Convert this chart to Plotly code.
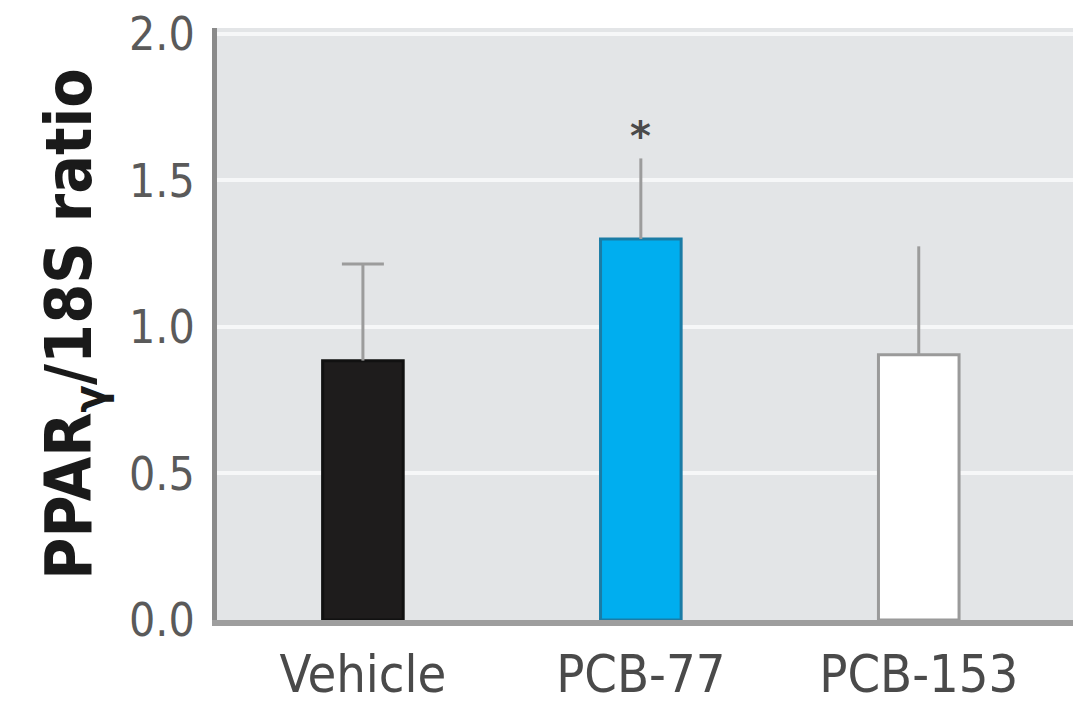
import plotly.graph_objects as go

# Relative PPARγ expression by treatment group
groups = ["Vehicle", "PCB-77", "PCB-153"]
ratio_mean = [0.885, 1.30, 0.905]
ratio_err = [0.33, 0.275, 0.37]
fill_colors = ["#1e1c1c", "#00aeef", "#ffffff"]
edge_colors = ["#111111", "#1a7ca6", "#9a9a9a"]
cap_sizes = [30, 0, 0]
y_ticks = [0.0, 0.5, 1.0, 1.5, 2.0]
y_tick_text = ["0.0", "0.5", "1.0", "1.5", "2.0"]
significance_mark = {"group": "PCB-77", "label": "*", "y": 1.65}

COND = "DejaVu Sans Condensed, Liberation Sans Narrow, Arial Narrow, sans-serif"
ERR_COLOR = "#9c9c9c"

fig = go.Figure()
for g, m, e, fc, ec in zip(groups, ratio_mean, ratio_err, fill_colors, edge_colors):
    fig.add_trace(go.Bar(
        x=[g], y=[m],
        width=0.29,
        marker=dict(color=fc, line=dict(color=ec, width=3)),
        error_y=dict(type="data", symmetric=False, array=[e], arrayminus=[0],
                     color=ERR_COLOR, thickness=3, width=0),
        showlegend=False,
    ))

# top caps only where the error whisker carries one
for g, m, e, cs in zip(groups, ratio_mean, ratio_err, cap_sizes):
    if cs > 0:
        fig.add_trace(go.Scatter(
            x=[g], y=[m + e], mode="markers",
            marker=dict(symbol="line-ew", size=cs, line=dict(color=ERR_COLOR, width=3)),
            showlegend=False, hoverinfo="skip",
        ))

fig.add_annotation(
    x=significance_mark["group"], y=significance_mark["y"],
    text="<b>" + significance_mark["label"] + "</b>", showarrow=False,
    font=dict(family="DejaVu Sans, sans-serif", size=40, color="#4a4a4a"),
    yanchor="middle",
)

fig.update_layout(
    width=1073, height=714,
    margin=dict(l=217, r=0, t=28, b=94),
    paper_bgcolor="#ffffff",
    plot_bgcolor="#e3e5e7",
    xaxis=dict(
        type="category",
        range=[-0.525, 2.555],
        showgrid=False,
        showline=True, linecolor="#9e9e9e", linewidth=6,
        ticks="", zeroline=False,
        ticklabelstandoff=4,
        tickfont=dict(family=COND, size=52, color="#4a4a4a"),
    ),
    yaxis=dict(
        range=[0, 2.02],
        tickvals=y_ticks, ticktext=y_tick_text,
        showgrid=True, gridcolor="#f6f7f8", gridwidth=4,
        showline=True, linecolor="#8a8a8a", linewidth=5,
        zeroline=False, ticks="",
        ticklabelstandoff=8,
        tickfont=dict(family=COND, size=46, color="#5a5a5a"),
        title=dict(
            text="<b>PPAR<sub>γ</sub>/18S ratio</b>",
            font=dict(family=COND, size=64, color="#1a1a1a"),
            standoff=18,
        ),
    ),
)

fig.write_html("out.html")
